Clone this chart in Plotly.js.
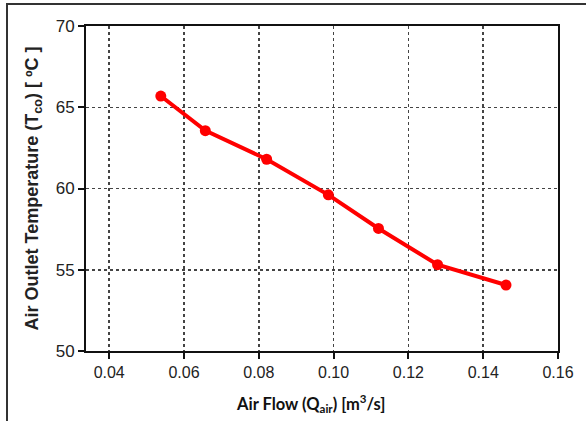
<!DOCTYPE html>
<html>
<head>
<meta charset="utf-8">
<script src="https://cdn.plot.ly/plotly-3.0.1.min.js"></script>
<style>
html,body{margin:0;padding:0;background:#fff;}
#wrap{position:relative;width:586px;height:421px;overflow:hidden;}
#chart{position:absolute;left:0;top:0;width:586px;height:421px;}
#frame{position:absolute;left:6px;top:3px;width:600px;height:440px;border-top:2px solid #333;border-left:2px solid #333;pointer-events:none;}
</style>
</head>
<body>
<div id="wrap">
<div id="chart"></div>
<div id="frame"></div>
</div>
<script>
const airFlow = [0.0538, 0.0657, 0.0821, 0.0986, 0.1120, 0.1278, 0.1461];
const outletTemp = [65.69, 63.56, 61.80, 59.61, 57.54, 55.31, 54.06];
const xTicks = [0.04, 0.06, 0.08, 0.10, 0.12, 0.14, 0.16];
const xTickLabels = ['0.04', '0.06', '0.08', '0.10', '0.12', '0.14', '0.16'];
const yTicks = [50, 55, 60, 65, 70];
const yTickLabels = ['50', '55', '60', '65', '70'];
const xTitle = '<b>Air Flow (Q<sub>air</sub>) [m<sup>3</sup>/s]</b>';
const yTitle = '<b>Air Outlet Temperature (T<sub>co</sub>) [ ºC ]</b>';

const trace = {
  x: airFlow,
  y: outletTemp,
  type: 'scatter',
  mode: 'lines+markers',
  line: {color: '#ff0000', width: 4},
  marker: {color: '#ff0000', size: 11},
  showlegend: false,
  hoverinfo: 'skip'
};

const layout = {
  width: 586,
  height: 421,
  margin: {l: 86, r: 28, t: 26, b: 70},
  paper_bgcolor: '#ffffff',
  plot_bgcolor: '#ffffff',
  font: {family: 'Arial', color: '#222'},
  xaxis: {
    range: [0.0338, 0.16],
    tickvals: xTicks,
    ticktext: xTickLabels,
    showline: true,
    mirror: true,
    linecolor: '#111',
    linewidth: 2,
    ticks: 'outside',
    ticklen: 6,
    tickwidth: 2,
    tickcolor: '#111',
    tickfont: {size: 16, family: 'Arial', color: '#222'},
    showgrid: true,
    gridcolor: '#444',
    gridwidth: 1.5,
    griddash: 'dot',
    zeroline: false
  },
  yaxis: {
    range: [50, 70],
    tickvals: yTicks,
    ticktext: yTickLabels,
    showline: true,
    mirror: true,
    linecolor: '#111',
    linewidth: 2,
    ticks: 'outside',
    ticklen: 6,
    tickwidth: 2,
    tickcolor: '#111',
    tickfont: {size: 17, family: 'Arial', color: '#222'},
    showgrid: true,
    gridcolor: '#444',
    gridwidth: 1.5,
    griddash: 'dot',
    zeroline: false,
    title: {
      text: yTitle,
      font: {size: 18, family: 'Arial', color: '#222'},
      standoff: 12
    }
  },
  annotations: [{
    text: xTitle,
    xref: 'paper', yref: 'paper',
    x: 0.4746, y: -0.16,
    xanchor: 'center', yanchor: 'middle',
    showarrow: false,
    font: {size: 16.5, family: 'Lato', color: '#111'}
  }]
};

Plotly.newPlot('chart', [trace], layout, {staticPlot: true, displayModeBar: false});
</script>
</body>
</html>
